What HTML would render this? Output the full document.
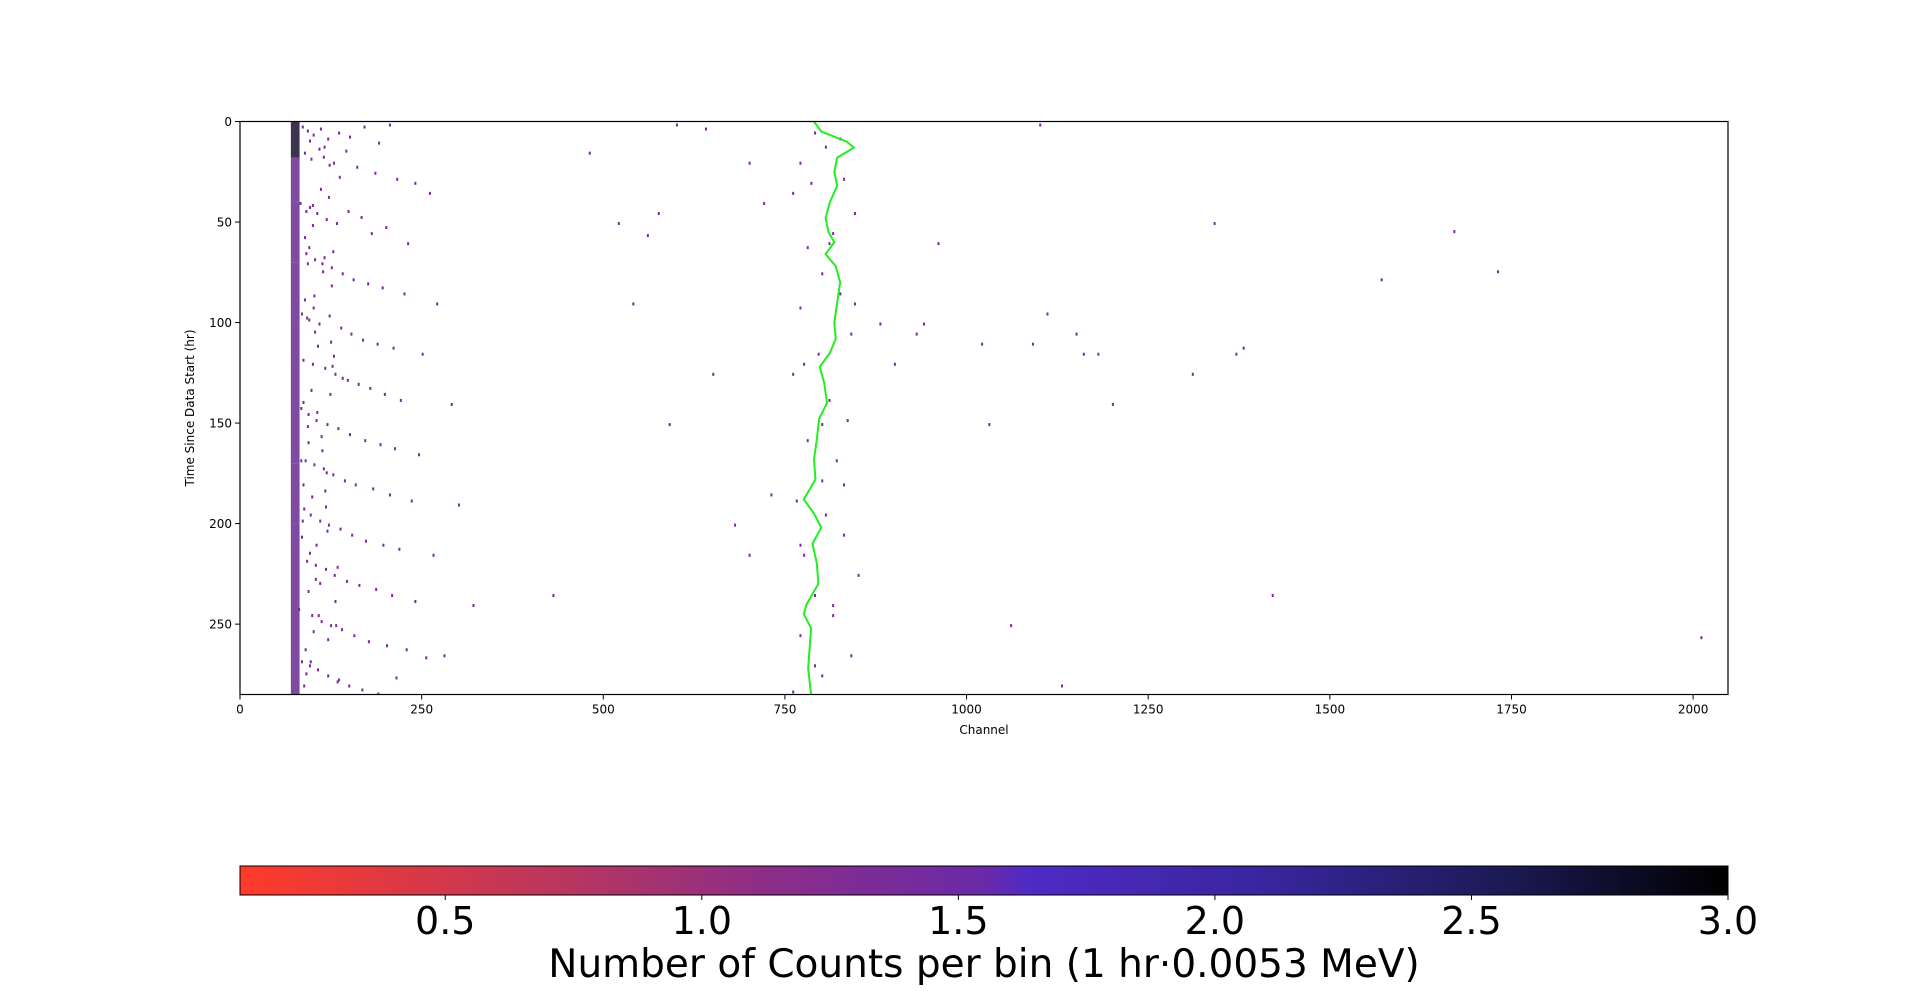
<!DOCTYPE html>
<html><head><meta charset="utf-8">
<style>
html,body{margin:0;padding:0;background:#fff;width:1920px;height:1007px;overflow:hidden}
svg{display:block;font-family:"DejaVu Sans","Liberation Sans",sans-serif}
</style></head>
<body>
<svg id="chart" width="1920" height="1007" xmlns="http://www.w3.org/2000/svg">
<defs>
<linearGradient id="cmap" x1="0" x2="1" y1="0" y2="0">
<stop offset="0" stop-color="#ff3b2a"/>
<stop offset="0.22" stop-color="#b8365f"/>
<stop offset="0.35" stop-color="#8d2e86"/>
<stop offset="0.5" stop-color="#6a2aa8"/>
<stop offset="0.53" stop-color="#4f2ac6"/>
<stop offset="0.7" stop-color="#37259a"/>
<stop offset="0.85" stop-color="#1c1a55"/>
<stop offset="1" stop-color="#000000"/>
</linearGradient>
<clipPath id="plotclip"><rect x="240" y="121.5" width="1488" height="573"/></clipPath>
</defs>
<g id="marks" clip-path="url(#plotclip)"></g>
<polyline id="peakline" fill="none" stroke="#22ee22" stroke-width="2" clip-path="url(#plotclip)"/>
<rect x="240" y="121.5" width="1488" height="573" fill="none" stroke="#000" stroke-width="1.2"/>
<g id="xticks"></g>
<g id="yticks"></g>
<text x="984" y="734" font-size="12" text-anchor="middle">Channel</text>
<text transform="translate(194,408) rotate(-90)" font-size="12" text-anchor="middle">Time Since Data Start (hr)</text>
<rect x="240" y="866" width="1488" height="29" fill="url(#cmap)" stroke="#000" stroke-width="1"/>
<g id="cticks"></g>
<text x="984" y="977" font-size="39" text-anchor="middle">Number of Counts per bin (1 hr·0.0053 MeV)</text>
</svg>
<script>
// ---- data ----
const xTicks = [0,250,500,750,1000,1250,1500,1750,2000];
const yTicks = [0,50,100,150,200,250];
const cTicks = ["0.5","1.0","1.5","2.0","2.5","3.0"];
const peakHours = [0,5,10,13,18,25,32,40,48,55,60,66,72,80,90,100,108,115,122,130,140,148,158,168,178,188,195,202,210,220,230,240,245,252,262,272,285];
const peakChannels = [790,800,835,845,822,818,822,812,806,810,818,806,820,826,822,818,820,812,798,804,808,797,794,790,792,776,790,800,788,794,796,780,776,786,784,782,786];
const edgeStart = [0,18,40,70,100,140,170,200,240];
const edgeEnd   = [18,40,70,100,140,170,200,240,285];
const edgeCount = [3,1,1,1.2,1,1.2,1,1,1];
const eventChannels = [
85,92,100,110,120,135,150,170,190,205,88,97,115,128,145,160,185,215,240,260,
82,95,105,118,132,148,166,180,200,230,90,102,112,125,140,155,175,195,225,270,
84,94,108,122,138,152,168,188,210,250,86,99,116,130,147,162,178,198,220,290,
83,93,104,119,134,150,171,192,212,245,89,101,114,127,143,158,182,205,235,300,
87,96,109,121,137,153,172,196,218,265,91,103,117,129,146,163,186,208,240,320,
80,98,111,124,139,156,176,201,228,280,84,95,106,120,133,149,167,189,214,255,
790,805,770,830,760,845,815,780,800,825,770,840,795,760,810,835,780,820,800,765,
805,830,775,850,790,815,770,840,800,760,825,785,810,845,775,800,830,770,815,790,
600,640,700,720,560,900,940,1020,1150,1160,1200,1110,1340,1380,1420,1570,1670,1730,2010,1100,
430,480,520,540,575,590,650,680,700,730,880,930,960,1030,1060,1090,1130,1180,1310,1370,
95,110,88,125,102,140,92,118,85,133,107,96,122,90,115,100,128,86,112,98,
104,93,120,87,136,99,113,91,126,105,83,117,95,130,89,108,121,94,101,124,
97,111,86,119,103,131,90,114,99,127,88,106,123,93,116,84,109,100,135,92];
const eventHours = [
2,4,6,3,8,5,7,2,10,1,15,18,12,20,14,22,25,28,30,35,
40,42,45,48,50,44,47,55,52,60,65,68,70,72,75,78,80,82,85,90,
95,98,100,96,102,105,108,110,112,115,118,120,122,125,128,130,132,135,138,140,
142,145,148,150,152,155,158,160,162,165,168,170,172,175,178,180,182,185,188,190,
192,195,198,200,202,205,208,210,212,215,218,220,222,225,228,230,232,235,238,240,
242,245,248,250,252,255,258,260,262,265,268,270,272,275,278,280,282,284,276,266,
5,12,20,28,35,45,55,62,75,85,92,105,115,125,138,148,158,168,178,188,
195,205,215,225,235,245,255,265,275,283,8,30,60,90,120,150,180,210,240,270,
1,3,20,40,56,120,100,110,105,115,140,95,50,112,235,78,54,74,256,1,
235,15,50,90,45,150,125,200,215,185,100,105,60,150,250,110,280,115,125,115,
9,33,57,81,104,127,151,174,198,221,245,268,21,44,67,92,116,139,163,186,
210,233,257,280,27,51,74,97,121,144,168,191,214,238,262,13,37,62,86,109,
133,156,180,203,227,250,274,17,41,64,88,111,135,159,183,206,229,253,277,70];
const eventCounts = eventChannels.map(()=>1);

// ---- axes ----
const X0=240,X1=1728,Y0=121.5,Y1=694.5;
const xs=c=>X0+(c/2048)*(X1-X0);
const ys=h=>Y0+(h/285)*(Y1-Y0);
const cs=v=>X0+((v-0.1)/2.9)*(X1-X0);
function color(v){
 if(v>=2.8) return "#1a1030";
 if(v>=1.8) return "#2a2270";
 return "#7a2a9c";
}
const NS="http://www.w3.org/2000/svg";
const marks=document.getElementById('marks');
function rect(x,y,w,h,fill,name,op){
 const r=document.createElementNS(NS,'rect');
 r.setAttribute('x',x);r.setAttribute('y',y);r.setAttribute('width',w);r.setAttribute('height',h);r.setAttribute('fill',fill);
 if(op) r.setAttribute('opacity',op);
 
 
 marks.appendChild(r);return r;
}
for(let i=0;i<edgeStart.length;i++){
 rect(xs(70),ys(edgeStart[i]),xs(82)-xs(70),ys(edgeEnd[i])-ys(edgeStart[i]),edgeCount[i]>=2.8?"#1a1030":"#6a2a90",'edge-band',0.85);
}
const bh=ys(1.5)-ys(0);
for(let i=0;i<eventChannels.length;i++){
 rect(xs(eventChannels[i]),ys(eventHours[i]),2,bh,color(eventCounts[i]),'count-cell');
}
const pl=document.getElementById('peakline');
pl.setAttribute('points',peakHours.map((h,i)=>xs(peakChannels[i])+','+ys(h)).join(' '));

const xt=document.getElementById('xticks');
xTicks.forEach(t=>{
 const l=document.createElementNS(NS,'line');
 l.setAttribute('x1',xs(t));l.setAttribute('x2',xs(t));l.setAttribute('y1',Y1);l.setAttribute('y2',Y1+5);l.setAttribute('stroke','#000');
 
 
 xt.appendChild(l);
 const tx=document.createElementNS(NS,'text');
 tx.setAttribute('x',xs(t));tx.setAttribute('y',Y1+19);tx.setAttribute('font-size','12');tx.setAttribute('text-anchor','middle');tx.textContent=t;
 
 
 xt.appendChild(tx);
});
const yt=document.getElementById('yticks');
yTicks.forEach(t=>{
 const l=document.createElementNS(NS,'line');
 l.setAttribute('x1',X0-5);l.setAttribute('x2',X0);l.setAttribute('y1',ys(t));l.setAttribute('y2',ys(t));l.setAttribute('stroke','#000');
 
 
 yt.appendChild(l);
 const tx=document.createElementNS(NS,'text');
 tx.setAttribute('x',X0-8);tx.setAttribute('y',ys(t)+4.5);tx.setAttribute('font-size','12');tx.setAttribute('text-anchor','end');tx.textContent=t;
 
 
 yt.appendChild(tx);
});
const ct=document.getElementById('cticks');
cTicks.forEach(t=>{
 const v=parseFloat(t);
 const l=document.createElementNS(NS,'line');
 l.setAttribute('x1',cs(v));l.setAttribute('x2',cs(v));l.setAttribute('y1',895);l.setAttribute('y2',900);l.setAttribute('stroke','#000');
 
 
 ct.appendChild(l);
 const tx=document.createElementNS(NS,'text');
 tx.setAttribute('x',cs(v));tx.setAttribute('y',934);tx.setAttribute('font-size','38');tx.setAttribute('text-anchor','middle');tx.textContent=t;
 
 
 ct.appendChild(tx);
});
</script>
</body></html>
